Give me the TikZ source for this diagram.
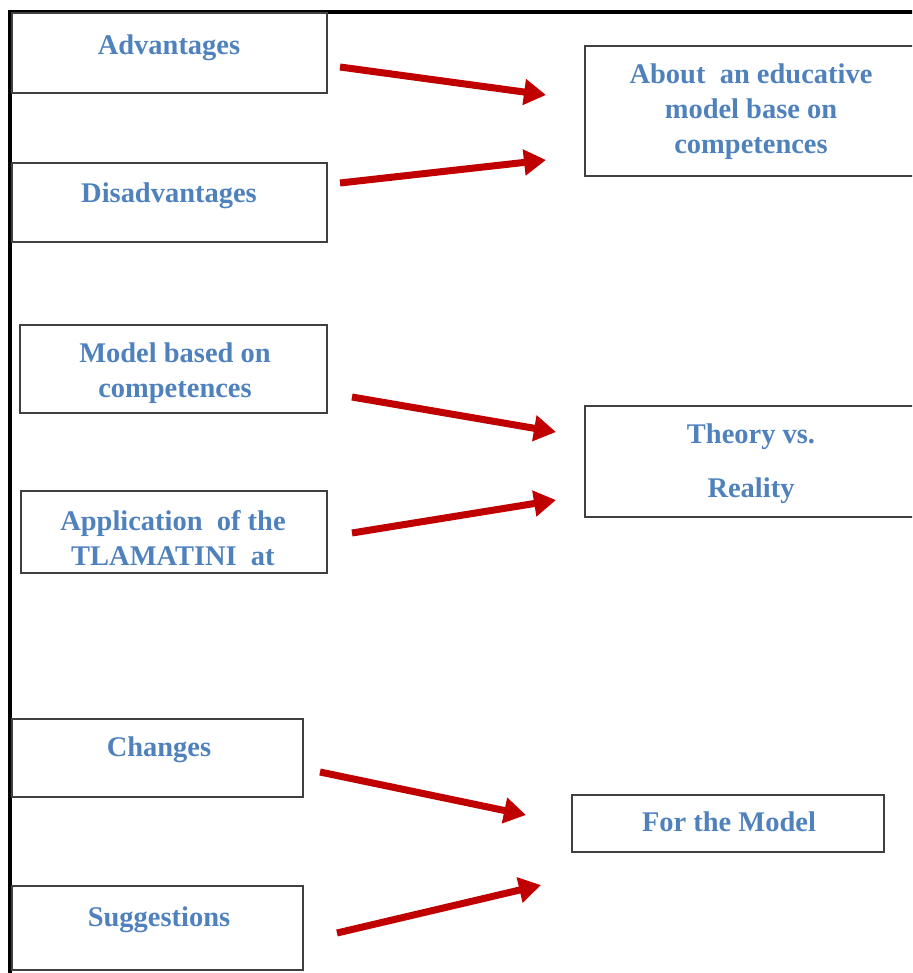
\documentclass[tikz,border=0pt]{standalone}
\usepackage{fontspec}
\setmainfont{Liberation Serif}
\usetikzlibrary{arrows.meta}
\definecolor{boxtext}{RGB}{79,129,189}
\definecolor{arrowred}{RGB}{192,0,0}
\begin{document}
\begin{tikzpicture}[line cap=round,
    box/.style={draw=black!75,line width=.6pt,inner sep=0pt},
    boxlabel/.style={text=boxtext,font=\fontsize{8.1}{10}\selectfont\bfseries,
      align=center,inner sep=0pt},
    redarrow/.style={draw=arrowred,line width=2pt,line cap=butt,
      -{Triangle[length=.22cm,width=.25cm]}}]
  \clip (0,0) rectangle (9.12,-9.73);
  % Outer frame: only its left and top edges show.
  \draw[line width=1.2pt,line cap=butt] (.10,-9.80) -- (.10,-.12) -- (9.20,-.12);
  % The boxes (empty), then their texts near the top of each.
  \foreach \name/\x/\y/\w/\h in {adv/1.695/-.53/3.15/.80, dis/1.695/-2.025/3.15/.79,
      about/7.50/-1.11/3.30/1.30, model/1.735/-3.69/3.07/.88,
      appl/1.74/-5.32/3.06/.82, theory/7.50/-4.615/3.30/1.11,
      changes/1.575/-7.58/2.91/.78, forthe/7.28/-8.235/3.12/.57,
      sugg/1.575/-9.28/2.91/.84} {
    \node[box,minimum width=\w cm,minimum height=\h cm] (\name) at (\x,\y) {};
  }
  \node[boxlabel] (adv-t) at (1.69,-.475) {Advantages};
  \node[boxlabel] (dis-t) at (1.69,-1.955) {Disadvantages};
  \node[boxlabel] (about-t) at (7.51,-1.115)
    {About \ an educative\\model base on\\competences};
  \node[boxlabel] (model-t) at (1.75,-3.735) {Model based on\\competences};
  \node[boxlabel] (appl-t) at (1.73,-5.38) {Application \ of the\\TLAMATINI \ at};
  \node[boxlabel] (theory-t) at (7.51,-4.635) {Theory vs.\\[5.2pt]Reality};
  \node[boxlabel] (changes-t) at (1.59,-7.495) {Changes};
  \node[boxlabel] (forthe-t) at (7.29,-8.22) {For the Model};
  \node[boxlabel] (sugg-t) at (1.59,-9.195) {Suggestions};
  % Arrow ends.
  \coordinate (a1s) at (3.40,-.67);  \coordinate (a1e) at (5.46,-.95);
  \coordinate (a2s) at (3.40,-1.83); \coordinate (a2e) at (5.46,-1.60);
  \coordinate (a3s) at (3.52,-3.97); \coordinate (a3e) at (5.56,-4.32);
  \coordinate (a4s) at (3.52,-5.33); \coordinate (a4e) at (5.56,-5.00);
  \coordinate (a5s) at (3.20,-7.72); \coordinate (a5e) at (5.26,-8.15);
  \coordinate (a6s) at (3.37,-9.33); \coordinate (a6e) at (5.41,-8.85);
  \foreach \i in {1,...,6} {
    \draw[redarrow] (a\i s) -- (a\i e);
  }
\end{tikzpicture}
\end{document}
